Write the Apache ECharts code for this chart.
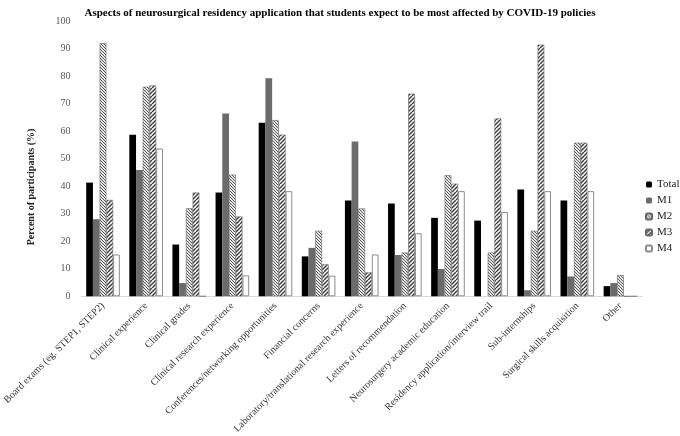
<!DOCTYPE html>
<html><head><meta charset="utf-8">
<script src="https://cdn.jsdelivr.net/npm/echarts@6/dist/echarts.min.js"></script>
<style>html,body{margin:0;padding:0;background:#fff}#c{width:680px;height:436px}</style>
</head><body><div id="c"></div>
<script>
var categories = ["Board exams (eg. STEP1, STEP2)","Clinical experience","Clinical grades","Clinical research experience","Conferences/networking opportunities","Financial concerns","Laboratory/translational research experience","Letters of recommendation","Neurosurgery academic education","Residency application/interview trail","Sub-internships","Surgical skills acquisition","Other"];
var total = [41.3,58.7,18.8,37.7,63.0,14.5,34.8,33.7,28.5,27.5,38.8,34.8,3.7];
var m1 =    [28.0,45.9,4.8,66.4,79.2,17.6,56.2,15.0,9.9,0,2.2,7.2,4.8];
var m2 =    [92.0,76.1,32.0,44.2,64.0,23.8,31.9,15.9,44.0,15.9,23.8,55.8,7.7];
var m3 =    [35.0,76.6,37.7,29.0,58.7,11.6,8.7,73.6,40.9,64.6,91.4,55.8,0];
var m4 =    [15.2,53.7,0,7.6,38.2,7.5,15.2,22.9,38.2,30.6,38.2,38.2,0];
var seriesNames = ["Total","M1","M2","M3","M4"];
var yTicks = {min:0,max:100,interval:10};

function hatch(size, spacing, dir, color, lw, bg){
  var c = document.createElement('canvas'); c.width=size; c.height=size;
  var g = c.getContext('2d'); g.fillStyle=bg; g.fillRect(0,0,size,size);
  g.strokeStyle=color; g.lineWidth=lw;
  for(var k=-2*size;k<=2*size;k+=spacing){
    g.beginPath();
    if(dir>0){ g.moveTo(k,size); g.lineTo(k+size,0); }
    else { g.moveTo(k,0); g.lineTo(k+size,size); }
    g.stroke();
  }
  return c;
}
var p2 = hatch(6,3,-1,'#5a5a5a',1,'#e6e6e6');
var p3 = hatch(8,4,1,'#3c3c3c',1.4,'#ffffff');

var font = 'Liberation Serif';
var chart = echarts.init(document.getElementById('c'));
function mk(name, data, style){
  return {name:name,type:'bar',data:data,barGap:'0%',barCategoryGap:'22%',itemStyle:style,animation:false};
}
chart.setOption({
  animation:false,
  title:{text:'Aspects of neurosurgical residency application that students expect to be most affected by COVID-19 policies',left:'center',top:3,textStyle:{fontFamily:font,fontSize:11,fontWeight:'bold',color:'#000'}},
  legend:{orient:'vertical',left:645,top:179,padding:0,itemWidth:6,itemHeight:6,itemGap:5,textStyle:{fontFamily:font,fontSize:11,color:'#222'},data:seriesNames},
  grid:{left:80,right:38,top:21,bottom:139,containLabel:false},
  graphic:[{type:'text',x:31,y:187,rotation:Math.PI/2,style:{text:'Percent of participants (%)',fontFamily:font,fontSize:10,fontWeight:'bold',fill:'#222',textAlign:'center',textVerticalAlign:'middle'}}],
  xAxis:{type:'category',data:categories,axisLine:{lineStyle:{color:'#d9d9d9'}},axisTick:{inside:true,length:7,lineStyle:{color:'#d9d9d9'}},
    axisLabel:{rotate:45,interval:0,fontFamily:font,fontSize:10,color:'#333',margin:8}},
  yAxis:{type:'value',min:yTicks.min,max:yTicks.max,interval:yTicks.interval,splitLine:{show:false},axisLine:{show:false},axisTick:{show:false},
    axisLabel:{fontFamily:font,fontSize:10,color:'#595959',margin:11}},
  series:[
    mk('Total',total,{color:'#000'}),
    mk('M1',m1,{color:'#6b6b6b'}),
    mk('M2',m2,{color:{image:p2,repeat:'repeat'},borderColor:'#666',borderWidth:0.6}),
    mk('M3',m3,{color:{image:p3,repeat:'repeat'},borderColor:'#666',borderWidth:0.6}),
    mk('M4',m4,{color:'#fff',borderColor:'#8c8c8c',borderWidth:1})
  ]
});
</script></body></html>
